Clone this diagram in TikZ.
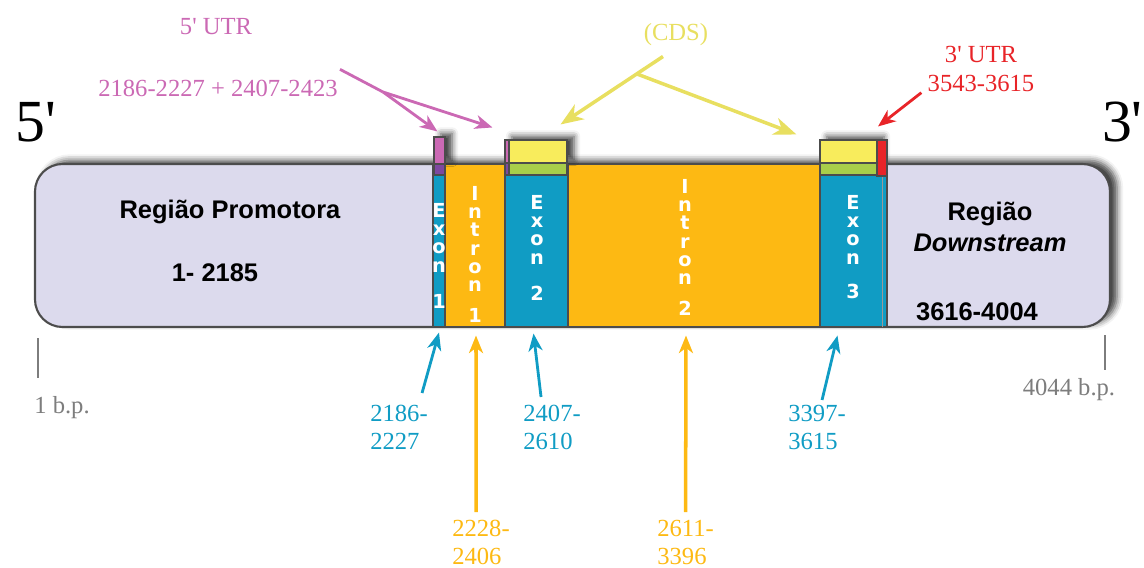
\documentclass[tikz,border=0pt]{standalone}
\usepackage{fontspec}
\setmainfont{Liberation Serif}
\setsansfont{Liberation Sans}
\newfontfamily\largafont{DejaVu Sans}
\usetikzlibrary{arrows.meta,positioning,calc,fit,shadows.blur}

\definecolor{lavanda}{RGB}{220,218,237}
\definecolor{azul}{RGB}{16,156,196}
\definecolor{laranja}{RGB}{253,185,19}
\definecolor{amarelo}{RGB}{248,236,92}
\definecolor{amarelotx}{RGB}{232,223,96}
\definecolor{verde}{RGB}{168,206,74}
\definecolor{rosa}{RGB}{203,105,180}
\definecolor{roxo}{RGB}{125,72,160}
\definecolor{vermelho}{RGB}{232,36,40}
\definecolor{cinza}{RGB}{125,125,125}

\tikzstyle{seg}=[draw=black!70,line width=0.6pt,inner sep=0pt]
\tikzstyle{sombra}=[blur shadow={shadow xshift=4pt,shadow yshift=2pt,
                shadow blur radius=3.5pt,shadow opacity=75}]
\tikzstyle{gene}=[seg,sombra,fill=lavanda,rounded corners=0.55cm,line width=1.2pt]
\tikzstyle{vtext}=[text=white,font=\largafont\bfseries\fontsize{11}{10.4}\selectfont,
                align=center,inner sep=0pt,anchor=north]
\tikzstyle{regtext}=[font=\sffamily\bfseries\fontsize{14.5}{17.6}\selectfont,align=center]
\tikzstyle{lbl}=[font=\fontsize{14}{16}\selectfont,inner sep=0pt]
\tikzstyle{bplbl}=[lbl,align=left,anchor=north west]
\tikzstyle{arr}=[-{Stealth[length=10pt,width=8pt,inset=3pt]},line width=1.6pt]

\begin{document}
\begin{tikzpicture}[x=0.02cm,y=-0.02cm]
    \clip (0,0) rectangle (1144,568);

    % gene body
    \node[gene,fit={(35,164) (1110,327)}] (gene) {};
    \node[seg,fill=azul,fit={(433,164) (445,327)}] (exA) {};
    \node[seg,fill=laranja,fit={(445,164) (505,327)}] (intA) {};
    \node[seg,fill=azul,fit={(505,164) (568,327)}] (exB) {};
    \node[seg,fill=laranja,fit={(568,164) (820,327)}] (intB) {};
    \node[seg,fill=azul,fit={(820,164) (887,327)}] (exC) {};
    \draw[black!40,line width=0.5pt] (882,176) -- (882,327);

    % UTR / CDS marks on top of the exons
    \node[seg,sombra,fill=rosa,fit={(434,137) (445,164)}] (utrA) {};
    \node[seg,fill=roxo,fit={(434,164) (445,175)}] (utrAb) {};
    \node[seg,sombra,fill=amarelo,fit={(505,140) (567,163)}] (cdsB) {};
    \node[seg,fill=verde,fit={(505,163) (567,175)}] (cdsBb) {};
    \node[seg,fill=rosa,fit={(505,140) (509,163)}] (utrB) {};
    \node[seg,fill=roxo,fit={(505,163) (509,175)}] (utrBb) {};
    \node[seg,sombra,fill=amarelo,fit={(820,140) (877,163)}] (cdsC) {};
    \node[seg,fill=verde,fit={(820,163) (877,175)}] (cdsCb) {};
    \node[seg,fill=vermelho,fit={(877,140) (887,176)}] (utrC) {};

    % stacked names
    \node[vtext] (tA) at (439,203) {E\\x\\o\\n\\[10pt]1};
    \node[vtext] (tB) at (475,186) {I\\n\\t\\r\\o\\n\\[7pt]1};
    \node[vtext] (tC) at (537,195) {E\\x\\o\\n\\[10pt]2};
    \node[vtext] (tD) at (685,179) {I\\n\\t\\r\\o\\n\\[7pt]2};
    \node[vtext] (tE) at (853,195) {E\\x\\o\\n\\[9pt]3};

    \node[regtext] (promo) at (230,212) {Região Promotora};
    \node[regtext] (promonum) at (215,273) {1- 2185};
    \node[regtext] (down) at (990,227) {Região\\\textit{Downstream}};
    \node[regtext] (downnum) at (977,312) {3616-4004};

    % ends
    \node[font=\fontsize{34}{34}\selectfont] (cinco) at (36,122) {5\textquotesingle};
    \node[font=\fontsize{34}{34}\selectfont,inner sep=0pt,anchor=east] (tres) at (1143,122) {3\textquotesingle};
    \draw[cinza,line width=1.6pt] (38,338) -- (38,378);
    \draw[cinza,line width=1.6pt] (1105,335) -- (1105,370);
    \node[lbl,text=cinza] (bpA) at (62,408) {1 b.p.};
    \node[lbl,text=cinza] (bpB) at (1069,390) {4044 b.p.};

    % top labels
    \node[lbl,text=rosa] (utr5) at (216,27) {5\textquotesingle{} UTR};
    \node[lbl,text=rosa] (utr5pos) at (218,88) {2186-2227 + 2407-2423};
    \node[lbl,text=amarelotx] (cds) at (676,35) {(CDS)};
    \node[lbl,text=vermelho,align=center] (utr3) at (981,69) {3\textquotesingle{} UTR\\3543-3615};

    \coordinate (ramo5) at (383,92);
    \draw[rosa,line width=1.6pt] ($(utr5pos.north east)+(2,-10)$) -- (ramo5);
    \draw[arr,rosa] (ramo5) -- ($(utrA.north)+(-2,-5)$);
    \draw[arr,rosa] (ramo5) -- ($(utrB.north west)+(-12,-12)$);

    \coordinate (ramocds) at (637,74);
    \draw[arr,amarelotx,line width=2pt,-{Stealth[length=13pt,width=10pt,inset=4pt]}]
        ($(cds.south)+(-13,10)$) -- ($(cdsB.north east)+(-7,-15)$);
    \draw[arr,amarelotx,line width=2pt,-{Stealth[length=13pt,width=10pt,inset=4pt]}]
        (ramocds) -- ($(cdsC.north west)+(-23,-5)$);

    \draw[arr,vermelho] ($(utr3.south west)+(-6,1)$) -- ($(utrC.north)+(-4,-13)$);

    % positions below
    \node[bplbl,text=azul] (pA) at (370,405) {2186-\\2227};
    \node[bplbl,text=laranja] (pB) at (452,520) {2228-\\2406};
    \node[bplbl,text=azul] (pC) at (523,405) {2407-\\2610};
    \node[bplbl,text=laranja] (pD) at (657,520) {2611-\\3396};
    \node[bplbl,text=azul] (pE) at (788,405) {3397-\\3615};

    \draw[arr,azul] ($(pA.north)+(23,-12)$) -- ($(exA.south)+(0,5)$);
    \draw[arr,laranja,line width=2pt] ($(pB.north)+(-5,-8)$) -- ($(intA.south)+(1,8)$);
    \draw[arr,azul] ($(pC.north)+(-11,-8)$) -- ($(exB.south)+(-3,6)$);
    \draw[arr,laranja,line width=2pt] ($(pD.north)+(0,-8)$) -- ($(intB.south)+(-8,8)$);
    \draw[arr,azul] ($(pE.north)+(5,-5)$) -- ($(exC.south)+(-16,8)$);
\end{tikzpicture}
\end{document}
